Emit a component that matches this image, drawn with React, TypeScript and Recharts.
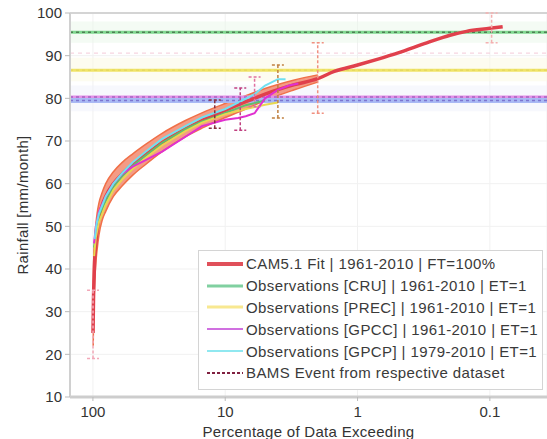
import {
  ComposedChart,
  Area,
  Line,
  Scatter,
  ErrorBar,
  XAxis,
  YAxis,
  CartesianGrid,
  ReferenceLine,
  ReferenceArea,
  Legend,
} from 'recharts';

const font = '"Liberation Sans", Arial, sans-serif';

// CAM5.1 fit (percentage exceeding -> rainfall)
const camP = [99.8, 99.5, 99, 98, 97, 95, 93, 90, 85, 80, 70, 60, 50, 40, 30, 20, 15, 10, 7, 5, 3, 2, 1.5, 1, 0.7, 0.5, 0.3, 0.2, 0.15, 0.1, 0.08];
const camMid = [25, 28, 33, 38, 42, 46, 49, 52, 55, 57, 60, 62.3, 64.5, 66.8, 69.6, 72.8, 74.8, 77.2, 79.2, 81, 83.2, 84.6, 86.3, 87.8, 89.2, 90.6, 93, 94.8, 95.7, 96.4, 96.8];

// ensemble spread
const bandP = [99.5, 99, 98, 97, 95, 93, 90, 85, 80, 70, 60, 50, 40, 30, 20, 15, 10, 7, 5, 3, 2];
const bandLow = [22, 27, 33, 37, 41.5, 44.5, 48, 51.5, 53.5, 57, 59.5, 62, 64.5, 67.5, 71, 73, 75.5, 77.5, 79.5, 82, 83.8];
const bandHigh = [34, 40, 44, 47, 50.5, 53, 55.5, 58, 60, 62.8, 65, 67, 69.2, 71.8, 74.8, 76.6, 78.8, 80.6, 82.3, 84.3, 85.5];

// observations
const cruP = [98, 95, 90, 80, 70, 60, 50, 40, 30, 20, 15, 12, 10, 8.5, 7, 5];
const cruVals = [45, 49, 52.5, 56, 59.3, 61.8, 64.2, 66.6, 69.6, 72.8, 74.6, 75.6, 76.6, 77.4, 78.4, 79.5];
const precP = [98, 95, 90, 80, 70, 60, 50, 40, 30, 20, 15, 10, 7, 5, 4];
const precVals = [43, 47.5, 51, 55, 58.5, 61, 63.5, 66, 69, 72.3, 74.3, 76.3, 77.5, 78.5, 79];
const gpccP = [98, 95, 90, 80, 70, 60, 50, 40, 30, 20, 15, 10, 8, 7, 6, 5, 4, 3.3, 2.8];
const gpccVals = [46, 50, 53.5, 57, 60, 62.3, 64, 65.5, 67.5, 71, 73.5, 75, 75.4, 75.8, 76.5, 80, 82, 83, 83.5];
const gpcpP = [97, 94, 90, 80, 70, 60, 50, 40, 30, 20, 15, 10, 8, 6, 5, 4, 3.5];
const gpcpVals = [47, 50.5, 53, 57, 60, 62.5, 65, 67.5, 70.5, 73.5, 75.5, 77.5, 79, 81, 83, 84.5, 84.5];

// uncertainty bars
const errP = [99.8, 12, 7.7, 6, 4, 2, 0.097];
const errLow = [19, 73, 72.5, 78, 75.4, 76.5, 93];
const errHigh = [35, 79.6, 82.4, 85, 87.8, 93, 100];
const errColors = ['#f2a8b8', '#8a3040', '#c04080', '#e070a0', '#c08040', '#f09080', '#f4b0b0'];

// BAMS event levels
const eventVals = [95.5, 86.6, 80.3, 79.5];
const eventColors = ['#80d890', '#f0e468', '#e490e8', '#a9b9f4'];
const eventDots = ['#3a5a3a', '#d8c850', '#8a50b0', '#6a58c0'];

const legendNames = [
  'CAM5.1 Fit | 1961-2010 | FT=100%',
  'Observations [CRU] | 1961-2010 | ET=1',
  'Observations [PREC] | 1961-2010 | ET=1',
  'Observations [GPCC] | 1961-2010 | ET=1',
  'Observations [GPCP] | 1979-2010 | ET=1',
  'BAMS Event from respective dataset',
];
const legendColors = ['#e0505a', '#80d0a0', '#f8e890', '#d070e0', '#90e8f0', '#802040'];
const legendWidths = [4, 3, 3, 2, 2, 2];

const camData = camP.map((p, i) => ({ p, mid: camMid[i] }));
const bandData = bandP.map((p, i) => ({ p, band: [bandLow[i], bandHigh[i]] }));
const toSeries = (ps: number[], vs: number[]) => ps.map((p, i) => ({ p, v: vs[i] }));
const obs = [
  { data: toSeries(cruP, cruVals), color: '#5cc070', width: 2 },
  { data: toSeries(precP, precVals), color: '#e8d850', width: 2 },
  { data: toSeries(gpccP, gpccVals), color: '#e030d0', width: 2 },
  { data: toSeries(gpcpP, gpcpVals), color: '#70e0f0', width: 2 },
];

const renderLegend = () => (
  <div
    style={{
      border: '1px solid #d4d4d4',
      background: '#fff',
      width: 345,
      height: 140,
      boxSizing: 'border-box',
      padding: '2px 0 0 8px',
      fontFamily: font,
      fontSize: 15,
      color: '#3a3a3a',
    }}
  >
    {legendNames.map((name, i) => (
      <div key={name} style={{ display: 'flex', alignItems: 'center', height: 21.8 }}>
        <svg width={36} height={10}>
          <line
            x1={0}
            x2={36}
            y1={5}
            y2={5}
            stroke={legendColors[i]}
            strokeWidth={legendWidths[i]}
            strokeDasharray={i === 5 ? '3 2' : undefined}
          />
        </svg>
        <span style={{ marginLeft: 3, whiteSpace: 'nowrap', letterSpacing: 0.4 }}>{name}</span>
      </div>
    ))}
  </div>
);

export default function App() {
  return (
    <div style={{ position: 'absolute', left: 0, top: 0, background: '#fff' }}>
      <ComposedChart
        width={547}
        height={439}
        data={camData}
        margin={{ top: 13, right: 0, bottom: 0, left: 0 }}
      >
        <CartesianGrid stroke="#f1f1f1" />
        <ReferenceArea y1={93} y2={98} fill="#e9f7e9" fillOpacity={0.5} stroke="none" />
        <ReferenceArea y1={84} y2={89.5} fill="#fcf9e2" fillOpacity={0.5} stroke="none" />
        <ReferenceArea y1={77} y2={83} fill="#eff1fb" fillOpacity={0.5} stroke="none" />
        <ReferenceLine y={90.6} stroke="#f4cad8" strokeDasharray="4 4" />
        <ReferenceLine y={100} stroke="#d4d4d4" strokeWidth={2} />
        {eventVals.map((v, i) => (
          <ReferenceLine key={'e' + i} y={v} stroke={eventColors[i]} strokeWidth={i === 3 ? 5 : 3} />
        ))}
        {eventVals.map((v, i) => (
          <ReferenceLine key={'d' + i} y={v} stroke={eventDots[i]} strokeWidth={1.5} strokeDasharray="3 3" strokeOpacity={i === 1 ? 0.4 : 0.7} />
        ))}
        <XAxis
          dataKey="p"
          type="number"
          scale="log"
          domain={[0.037, 149]}
          allowDataOverflow
          reversed
          ticks={[100, 10, 1, 0.1]}
          tickFormatter={(v) => String(v)}
          height={42}
          axisLine={{ stroke: '#cdcdcd', strokeWidth: 3 }}
          tickLine={{ stroke: '#bbbbbb' }}
          tickSize={4}
          tickMargin={5}
          tick={{ fontSize: 15, fill: '#333', fontFamily: font }}
          label={{
            value: 'Percentage of Data Exceeding',
            position: 'insideBottom',
            offset: 2,
            style: { fontSize: 15, fill: '#333', fontFamily: font, letterSpacing: 0.3 },
          }}
        />
        <YAxis
          type="number"
          domain={[10, 100]}
          ticks={[10, 20, 30, 40, 50, 60, 70, 80, 90, 100]}
          allowDataOverflow
          width={70}
          axisLine={{ stroke: '#d0d0d0', strokeWidth: 2 }}
          tickLine={{ stroke: '#bbbbbb' }}
          tickSize={5}
          tickMargin={3}
          tick={{ fontSize: 15, fill: '#333', fontFamily: font }}
          label={{
            content: ({ viewBox }: any) => {
              const cx = viewBox.x + 22;
              const cy = viewBox.y + viewBox.height / 2;
              return (
                <text
                  x={cx}
                  y={cy}
                  transform={`rotate(-90, ${cx}, ${cy})`}
                  textAnchor="middle"
                  dominantBaseline="central"
                  style={{ fontSize: 15, fill: '#333', fontFamily: font, letterSpacing: 0.3 }}
                >
                  Rainfall [mm/month]
                </text>
              );
            },
          }}
        />
        <Area
          data={bandData}
          dataKey="band"
          type="monotone"
          stroke="#f07048"
          strokeWidth={1.5}
          fill="#f28a70"
          fillOpacity={0.85}
          isAnimationActive={false}
        />
        <Line
          dataKey="mid"
          type="monotone"
          stroke="#e0404c"
          strokeWidth={3.5}
          dot={false}
          isAnimationActive={false}
        />
        {obs.map((o, i) => (
          <Line
            key={'o' + i}
            data={o.data}
            dataKey="v"
            type="linear"
            stroke={o.color}
            strokeWidth={o.width}
            dot={false}
            isAnimationActive={false}
          />
        ))}
        {errP.map((p, i) => {
          const c = (errLow[i] + errHigh[i]) / 2;
          const h = (errHigh[i] - errLow[i]) / 2;
          return (
            <Scatter
              key={'s' + i}
              data={[{ p, y: c, err: [h, h] }]}
              dataKey="y"
              shape={() => <g />}
              isAnimationActive={false}
            >
              <ErrorBar
                dataKey="err"
                direction="y"
                width={6}
                stroke={errColors[i]}
                strokeWidth={1.5}
                strokeDasharray="3 2"
              />
            </Scatter>
          );
        })}
        <Legend
          layout="vertical"
          align="center"
          verticalAlign="middle"
          content={renderLegend}
          wrapperStyle={{ left: 198, top: 250, width: 345, height: 140 }}
        />
      </ComposedChart>
    </div>
  );
}
